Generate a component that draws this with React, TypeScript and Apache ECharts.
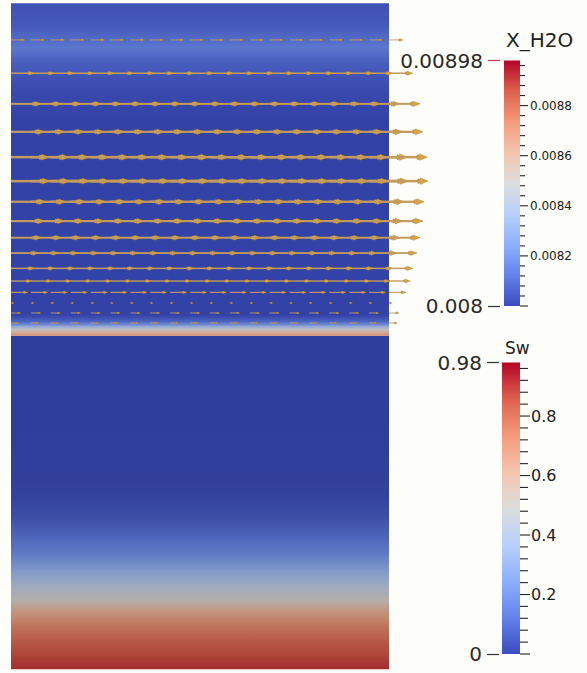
import React, { useEffect, useRef } from "react";
import * as echarts from "echarts";

const FONT = "DejaVu Sans";

// Colour-bar ranges, tick values and labelled values
const xh2oRange = [0.008, 0.00898];
const xh2oMajorTicks = [0.008, 0.0082, 0.0084, 0.0086, 0.0088];
const xh2oLabels = [0.0082, 0.0084, 0.0086, 0.0088];
const xh2oMinorStep = 0.00004;
const swRange = [0, 0.98];
const swMajorTicks = [0, 0.2, 0.4, 0.6, 0.8];
const swLabels = [0.2, 0.4, 0.6, 0.8];
const swMinorStep = 0.04;

// Upper (gas) zone: water-vapour mass fraction against depth (fraction of column height)
const gasDepth = [0, 0.033, 0.066, 0.09, 0.13, 0.175, 0.468, 0.478, 0.4845, 0.489, 0.4935, 0.497, 0.4995];
const gasXH2O = [0.00804, 0.00806, 0.00814, 0.00807, 0.00802, 0.008, 0.008, 0.0081, 0.0083, 0.0085, 0.0086, 0.00868, 0.00866];

// Lower zone: water saturation against depth
const liqDepth = [0.4995, 0.6, 0.68, 0.716, 0.746, 0.776, 0.806, 0.828, 0.851, 0.873, 0.896, 0.914, 0.933, 0.956, 0.978, 1.0];
const liqSw = [0, 0, 0.005, 0.01, 0.02, 0.06, 0.13, 0.19, 0.3, 0.41, 0.51, 0.65, 0.75, 0.82, 0.87, 0.91];

// Velocity glyph rows: depth of each row and horizontal arrow length (in column widths)
const glyphDepth = [0.055, 0.105, 0.151, 0.193, 0.231, 0.267, 0.298, 0.327, 0.352, 0.375, 0.398, 0.417, 0.434, 0.45, 0.465, 0.48];
const glyphSpeed = [0.037, 0.063, 0.082, 0.09, 0.101, 0.103, 0.093, 0.09, 0.082, 0.074, 0.063, 0.056, 0.045, 0.008, 0.026, 0.021];
// Glyph seed points across the column
const glyphNodeX = [0, 0.053, 0.105, 0.158, 0.211, 0.263, 0.316, 0.368, 0.421, 0.474, 0.526, 0.579, 0.632, 0.684, 0.737, 0.789, 0.842, 0.895, 0.947, 1.0];

// Cool-to-warm diverging palette
const COOL_WARM = [
  [59, 76, 192], [98, 130, 234], [141, 176, 254], [184, 208, 249], [221, 221, 221],
  [245, 196, 173], [244, 154, 123], [222, 96, 77], [180, 4, 38],
];

function paletteColor(t: number, shade = 1): string {
  const c = Math.max(0, Math.min(1, t)) * (COOL_WARM.length - 1);
  const i = Math.min(COOL_WARM.length - 2, Math.floor(c));
  const f = c - i;
  const a = COOL_WARM[i], b = COOL_WARM[i + 1];
  const rgb = [0, 1, 2].map((k) => Math.round((a[k] + (b[k] - a[k]) * f) * shade));
  return `rgb(${rgb[0]},${rgb[1]},${rgb[2]})`;
}

function norm(v: number, range: number[]) {
  return (v - range[0]) / (range[1] - range[0]);
}

// minor tick positions between the major ticks, up to the end of the range
function minorTicks(range: number[], step: number, majors: number[]) {
  const out: number[] = [];
  const n = Math.floor((range[1] - range[0]) / step + 1e-6);
  for (let k = 1; k <= n; k++) {
    const v = +(range[0] + k * step).toPrecision(10);
    if (!majors.some((m) => Math.abs(m - v) < step * 1e-3)) out.push(v);
  }
  return out;
}

function fieldSeries(depth: number[], values: number[], range: number[], shade: number) {
  const data = depth.slice(0, -1).map((d, i) => [d, depth[i + 1], values[i], values[i + 1]]);
  return {
    type: "custom",
    xAxisIndex: 0,
    yAxisIndex: 0,
    z: 1,
    silent: true,
    data,
    renderItem: (params: any, api: any) => {
      const d0 = api.value(0), d1 = api.value(1), v0 = api.value(2), v1 = api.value(3);
      const a = api.coord([0, d0]);
      const b = api.coord([1, d1]);
      const last = params.dataIndex === data.length - 1;
      return {
        type: "rect",
        shape: { x: a[0], y: a[1], width: b[0] - a[0], height: b[1] - a[1] + (last ? 0 : 0.8) },
        style: {
          fill: new echarts.graphic.LinearGradient(0, 0, 0, 1, [
            { offset: 0, color: paletteColor(norm(v0, range), shade) },
            { offset: 1, color: paletteColor(norm(v1, range), shade) },
          ]),
        },
      };
    },
  };
}

// colour bar with its tick marks along the right edge
function colorBarSeries(
  gridIdx: number,
  yIdx: number,
  range: number[],
  majors: number[],
  minors: number[],
  majorLen: number,
  minorLen: number
) {
  const n = COOL_WARM.length - 1;
  const stops = COOL_WARM.map((_, k) => ({ offset: k / n, color: paletteColor(1 - k / n) }));
  return {
    type: "custom",
    xAxisIndex: gridIdx,
    yAxisIndex: yIdx,
    silent: true,
    clip: false,
    z: 2,
    data: [[range[0], range[1]]],
    renderItem: (params: any, api: any) => {
      const a = api.coord([0, api.value(1)]);
      const b = api.coord([1, api.value(0)]);
      const tick = (v: number, len: number) => {
        const p = api.coord([1, v]);
        return {
          type: "rect",
          shape: { x: p[0], y: p[1] - 0.55, width: len, height: 1.1 },
          style: { fill: "#262626" },
        };
      };
      return {
        type: "group",
        children: [
          {
            type: "rect",
            shape: { x: a[0], y: a[1], width: b[0] - a[0], height: b[1] - a[1] },
            style: { fill: new echarts.graphic.LinearGradient(0, 0, 0, 1, stops) },
          },
          ...majors.map((v) => tick(v, majorLen)),
          ...minors.map((v) => tick(v, minorLen)),
        ],
      };
    },
  };
}

function labelAxis(grid: number, range: number[], labels: number[], fontSize: number, margin: number) {
  return {
    type: "value",
    gridIndex: grid,
    position: "right",
    min: range[0],
    max: range[1],
    axisLine: { show: false, onZero: false },
    splitLine: { show: false },
    axisTick: { show: false },
    axisLabel: { show: true, customValues: labels, fontSize, fontFamily: FONT, color: "#222", margin },
  };
}

function endAxis(grid: number, range: number[], value: number, tickColor: string, offset: number) {
  return {
    type: "value",
    gridIndex: grid,
    position: "left",
    offset,
    min: range[0],
    max: range[1],
    axisLine: { show: false, onZero: false },
    splitLine: { show: false },
    axisTick: { show: true, length: 12, customValues: [value], lineStyle: { color: tickColor, width: 1.2 } },
    axisLabel: {
      customValues: [value],
      fontSize: 20,
      fontFamily: FONT,
      color: "#2a2a2a",
      margin: 17,
    },
  };
}

function buildOption() {
  const glyphData: number[][] = [];
  glyphDepth.forEach((d, r) => {
    glyphNodeX.forEach((x) => glyphData.push([x, d, glyphSpeed[r]]));
  });

  return {
    animation: false,
    backgroundColor: "#fdfdf9",
    grid: [
      { left: 11, top: 3.3, width: 378, height: 666 },
      { left: 504, top: 60.5, width: 16, height: 245.5 },
      { left: 502, top: 362.5, width: 18, height: 291.5 },
    ],
    xAxis: [0, 1, 2].map((g) => ({ type: "value", gridIndex: g, min: 0, max: 1, show: false })),
    yAxis: [
      { type: "value", gridIndex: 0, min: 0, max: 1, inverse: true, show: false },
      labelAxis(1, xh2oRange, xh2oLabels, 12, 10),
      endAxis(1, xh2oRange, xh2oRange[1], "#c23a48", 4),
      endAxis(1, xh2oRange, xh2oRange[0], "#333", 4),
      labelAxis(2, swRange, swLabels, 16, 11),
      endAxis(2, swRange, swRange[1], "#333", 3),
      endAxis(2, swRange, swRange[0], "#333", 3),
    ],
    graphic: [
      {
        type: "text",
        x: 506,
        y: 40,
        style: { text: "X_H2O", font: `20px '${FONT}'`, fill: "#222", verticalAlign: "middle" },
      },
      {
        type: "text",
        x: 505,
        y: 348,
        style: { text: "Sw", font: `17px '${FONT}'`, fill: "#222", verticalAlign: "middle" },
      },
    ],
    series: [
      fieldSeries(gasDepth, gasXH2O, xh2oRange, 0.87),
      fieldSeries(liqDepth, liqSw, swRange, 0.8),
      {
        type: "custom",
        xAxisIndex: 0,
        yAxisIndex: 0,
        z: 5,
        silent: true,
        clip: false,
        data: glyphData,
        renderItem: (params: any, api: any) => {
          const x = api.value(0), d = api.value(1), s = api.value(2);
          const p0 = api.coord([x, d]);
          const p1 = api.coord([x + s, d]);
          const len = p1[0] - p0[0];
          const lw = Math.max(0.9, Math.min(2.6, len * 0.065));
          const hl = Math.max(1.6, Math.min(7.5, len * 0.22));
          const hw = Math.max(1.1, Math.min(3.2, len * 0.085));
          const bx = p1[0] - hl;
          return {
            type: "group",
            children: [
              {
                type: "line",
                shape: { x1: p0[0], y1: p0[1], x2: bx + 0.5, y2: p1[1] },
                style: { stroke: "#c39b5c", lineWidth: lw },
              },
              {
                type: "polygon",
                shape: {
                  points: [
                    [bx - hl * 0.35, p1[1] - hw * 0.7],
                    [bx, p1[1] - hw * 0.7],
                    [bx, p1[1] - hw],
                    [p1[0], p1[1]],
                    [bx, p1[1] + hw],
                    [bx, p1[1] + hw * 0.7],
                    [bx - hl * 0.35, p1[1] + hw * 0.7],
                  ],
                },
                style: { fill: "#d8a444", stroke: "#8f6d32", lineWidth: 0.35 },
              },
            ],
          };
        },
      },
      colorBarSeries(1, 1, xh2oRange, xh2oMajorTicks, minorTicks(xh2oRange, xh2oMinorStep, xh2oMajorTicks), 8, 5),
      colorBarSeries(2, 4, swRange, swMajorTicks, minorTicks(swRange, swMinorStep, swMajorTicks), 10, 8),
    ],
  };
}

export default function App() {
  const ref = useRef<HTMLDivElement>(null);
  useEffect(() => {
    const chart = echarts.init(ref.current!, null, { renderer: "svg" });
    chart.setOption(buildOption() as any);
    return () => chart.dispose();
  }, []);
  return (
    <div
      ref={ref}
      style={{ position: "fixed", left: 0, top: 0, width: 587, height: 673 }}
    />
  );
}
